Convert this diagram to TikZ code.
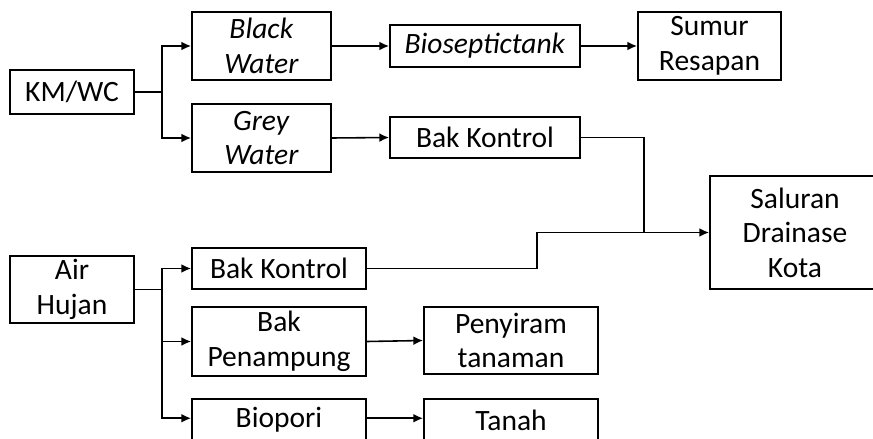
\documentclass[tikz,border=0pt]{standalone}
\usepackage{fontspec}
\setmainfont{Carlito}
\usetikzlibrary{arrows.meta}

\tikzset{
    box/.style={draw=black, line width=1.1pt, align=center, inner sep=0pt,
        font=\fontsize{16.8}{19.6}\selectfont},
    arr/.style={-{Latex[length=5.5pt, width=5pt]}, line width=0.9pt},
    lnk/.style={line width=0.9pt}
}

\begin{document}
\begin{tikzpicture}[x=0.02cm, y=-0.02cm]
            \clip (0,0) rectangle (873,439);
            % sumber air
            \node[box, minimum width=2.48cm, minimum height=0.88cm] (km) at (72,92) {KM/WC};
            \node[box, minimum width=2.48cm, minimum height=1.34cm] (ah) at (72,289.5) {Air\\Hujan};
            % limbah KM/WC
            \node[box, minimum width=2.78cm, minimum height=1.36cm] (bw) at (261.5,46) {\textit{Black}\\\textit{Water}};
            \node[box, minimum width=2.78cm, minimum height=1.36cm] (gw) at (261.5,138) {\textit{Grey}\\\textit{Water}};
            \node[box, minimum width=3.8cm, minimum height=0.84cm] (bst) at (485,46) {\textit{Bioseptictank}};
            \node[box, minimum width=2.86cm, minimum height=1.36cm] (sr) at (709.5,46) {Sumur\\Resapan};
            \node[box, minimum width=3.8cm, minimum height=0.82cm] (bka) at (485,137.5) {Bak Kontrol};
            \node[box, minimum width=3.4cm, minimum height=2.26cm] (sal) at (795,232.5) {Saluran\\Drainase\\Kota};
            % air hujan
            \node[box, minimum width=3.48cm, minimum height=0.82cm] (bkb) at (279,268.5) {Bak Kontrol};
            \node[box, minimum width=3.48cm, minimum height=1.38cm] (bp) at (279,341.5) {Bak\\Penampung};
            \node[box, minimum width=3.48cm, minimum height=0.84cm] (bio) at (279,420) {Biopori};
            \node[box, minimum width=3.48cm, minimum height=1.34cm] (pt) at (511,340.5) {Penyiram\\tanaman};
            \node[box, minimum width=3.48cm, minimum height=0.84cm] (tnh) at (511,420) {Tanah};

            \coordinate (kmj) at (162,92);
            \coordinate (ahj) at (162,289.5);
            \coordinate (sj) at (644,232.5);
            \coordinate (bks) at (537,268.5);

            \draw[lnk] (km.east) -- (kmj);
            \draw[arr] (kmj) |- (bw.west);
            \draw[arr] (kmj) |- (gw.west);
            \draw[arr] (bw.east) -- (bst.west);
            \draw[arr] (bst.east) -- (sr.west);
            \draw[arr] (gw.east) -- (bka.west);
            \draw[lnk] (bka.east) -| (sj);
            \draw[arr] (sj) -- (sal.west);

            \draw[lnk] (ah.east) -- (ahj);
            \draw[arr] (ahj) |- (bkb.west);
            \draw[arr] (ahj) |- (bp.west);
            \draw[arr] (ahj) |- ([yshift=1pt]bio.west);
            \draw[lnk] (bkb.east) -- (bks) |- (sj);
            \draw[arr] (bp.east) -- (pt.west);
            \draw[arr] ([yshift=1pt]bio.east) -- ([yshift=1pt]tnh.west);
        \end{tikzpicture}
\end{document}
